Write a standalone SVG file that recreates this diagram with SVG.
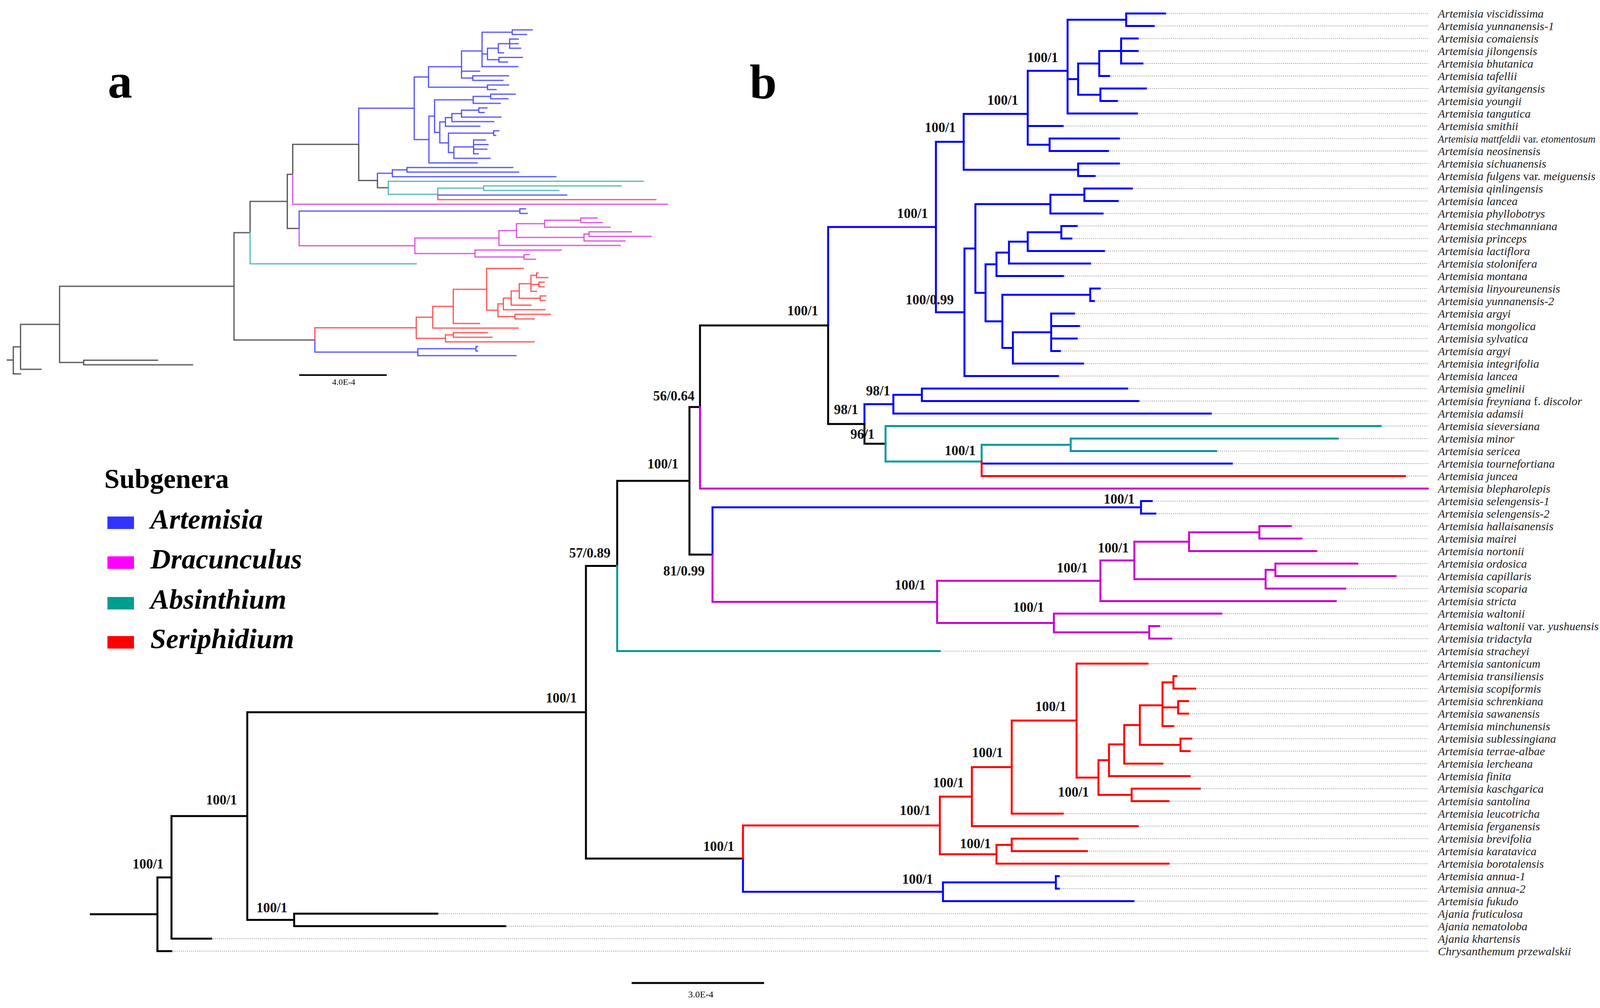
<svg xmlns="http://www.w3.org/2000/svg" xmlns:xlink="http://www.w3.org/1999/xlink" width="4157" height="2580" viewBox="0 0 4157 2580">
<style>
.k{stroke:#000}.bl{stroke:#0000ff}.mg{stroke:#cc00cc}.tl{stroke:#009999}.rd{stroke:#ff0000}
#branches path{fill:none;vector-effect:non-scaling-stroke;stroke-linecap:square}
.dot{fill:none;stroke:#8a8a8a;stroke-width:2;stroke-dasharray:2 3}
.tip{font-family:"Liberation Serif","Times New Roman",serif;font-style:italic;font-size:30px;fill:#222}
.tip tspan.n{font-style:normal}
.bs{font-family:"Liberation Serif","Times New Roman",serif;font-weight:bold;font-size:35px;fill:#111;text-anchor:middle}
.pl{font-family:"Liberation Serif","Times New Roman",serif;font-weight:bold;font-size:125px;fill:#000}
.leg{font-family:"Liberation Serif","Times New Roman",serif;font-weight:bold;font-style:italic;font-size:72px;fill:#000}
.sc{font-family:"Liberation Serif","Times New Roman",serif;fill:#000;text-anchor:middle}
</style>
<rect width="4157" height="2580" fill="#fff"/>

<g id="panel-b" stroke-width="5">
<g id="branches">
<path class="bl" d="M2883 34.5V66.5M2883 34.5H2983M2883 66.5H2954M2870 98.5V162.5M2870 98.5H2913M2870 130.5H2913M2870 162.5H2925M2814 130.5V194.5M2814 130.5H2870M2814 194.5H2840M2817 226.5V258.5M2817 226.5H2934M2817 258.5H2860M2760 162.5V242.5M2760 162.5H2814M2760 242.5H2817M2733 50.5V290.5M2733 50.5H2883M2733 202.5H2760M2733 290.5H2911M2687 354.5V386.5M2687 354.5H2865M2687 386.5H2837M2631 181.2V370.5M2631 181.2H2733M2631 322.5H2721M2631 370.5H2687M2760 418.5V450.5M2760 418.5H2865M2760 450.5H2803M2467 291.4V434.5M2467 291.4H2631M2467 434.5H2760"/>
<path class="bl" d="M2776 482.5V514.5M2776 482.5H2898M2776 514.5H2862M2689 498.5V546.5M2689 498.5H2776M2689 546.5H2823M2717 578.5V610.5M2717 578.5H2757M2717 610.5H2743M2631 594.5V642.5M2631 594.5H2717M2631 642.5H2827M2583 618.5V674.5M2583 618.5H2631M2583 674.5H2791M2551 646.5V706.5M2551 646.5H2583M2551 706.5H2722M2791 738.5V770.5M2791 738.5H2816M2791 770.5H2801M2691 802.5V898.5M2691 802.5H2750M2691 834.5H2763M2691 866.5H2757M2691 898.5H2714M2593 850.5V930.5M2593 850.5H2691M2593 930.5H2773M2566 754.5V890.5M2566 754.5H2791M2566 890.5H2593M2523 676.5V822.5M2523 676.5H2551M2523 822.5H2566M2497 522.5V749.5M2497 522.5H2689M2497 749.5H2523M2469 636V962.5M2469 636H2497M2469 962.5H2709M2396 363V799.25M2396 363H2467M2396 799.25H2469M2120 581.1V833.1M2120 581.1H2396"/>
<path class="bl" d="M2360 994.5V1026.5M2360 994.5H2886M2360 1026.5H2915M2287 1010.5V1058.5M2287 1010.5H2360M2287 1058.5H3100M2213 1034.5V1085.2M2213 1034.5H2287M2513 1186.5H3154M2921 1282.5V1314.5M2921 1282.5H2949M2921 1314.5H2958M1824 1298.5V1419.5M1824 1298.5H2921M2703 2242.5V2274.5M2703 2242.5H2711M2703 2274.5H2711M2414 2258.5V2306.5M2414 2258.5H2703M2414 2306.5H2902M1902 2197.6V2282.5M1902 2282.5H2414"/>
<path class="k" d="M2120 833.1V1085.2M2120 1085.2H2213M2213 1085.2V1135.8M2213 1135.8H2267M1792 833.1V1041.8M1792 833.1H2120M1765 1041.8V1419.5M1765 1041.8H1792M1765 1419.5H1824M1580 1230.7V1448.6M1580 1230.7H1765M1500 1448.6V2197.6M1500 1448.6H1580M1500 2197.6H1902M753 2338.5V2370.5M753 2338.5H1120M753 2370.5H1294M633 1823.1V2354.5M633 1823.1H1500M633 2354.5H753M439 2088.8V2402.5M439 2088.8H633M439 2402.5H541M403 2245.7V2434.5M403 2245.7H439M403 2434.5H439"/>
<path class="mg" d="M1792 1041.8V1250.5M1792 1250.5H3655M1824 1419.5V1540.5M1824 1540.5H2399M3224 1346.5V1378.5M3224 1346.5H3305M3224 1378.5H3332M3044 1362.5V1410.5M3044 1362.5H3224M3044 1410.5H3370M3265 1442.5V1474.5M3265 1442.5H3475M3265 1474.5H3573M3240 1458.5V1506.5M3240 1458.5H3265M3240 1506.5H3444M2904 1386.5V1482.5M2904 1386.5H3044M2904 1482.5H3240M2817 1434.5V1538.5M2817 1434.5H2904M2817 1538.5H3420M2942 1602.5V1634.5M2942 1602.5H2968M2942 1634.5H2999M2698 1570.5V1618.5M2698 1570.5H3127M2698 1618.5H2942M2399 1486.5V1594.5M2399 1486.5H2817M2399 1594.5H2698"/>
<path class="tl" d="M2741 1122.5V1154.5M2741 1122.5H3425M2741 1154.5H3114M2513 1138.5V1181.2M2513 1138.5H2741M2267 1090.5V1181.2M2267 1090.5H3535M2267 1181.2H2513M1580 1448.6V1666.5M1580 1666.5H2406"/>
<path class="rd" d="M2513 1181.2V1218.5M2513 1218.5H3597M3004 1730.5V1762.5M3004 1730.5H3012M3004 1762.5H3060M3016 1794.5V1826.5M3016 1794.5H3042M3016 1826.5H3042M2976 1746.5V1858.5M2976 1746.5H3004M2976 1810.5H3016M2976 1858.5H3004M3022 1890.5V1922.5M3022 1890.5H3050M3022 1922.5H3046M2918 1805.2V1906.5M2918 1805.2H2976M2918 1906.5H3022M2878 1855.8V1954.5M2878 1855.8H2918M2878 1954.5H2976M2839 1905.2V1986.5M2839 1905.2H2878M2839 1986.5H3046M2897 2018.5V2050.5M2897 2018.5H3072M2897 2050.5H2992M2812 1945.8V2034.5M2812 1945.8H2839M2812 2034.5H2897M2756 1698.5V1990.2M2756 1698.5H2938M2756 1990.2H2812M2590 1844.3V2082.5M2590 1844.3H2756M2590 2082.5H2721M2488 1963.4V2114.5M2488 1963.4H2590M2488 2114.5H2913M2590 2146.5V2178.5M2590 2146.5H2759M2590 2178.5H2783M2551 2162.5V2210.5M2551 2162.5H2590M2551 2210.5H2992M2406 2039V2186.5M2406 2039H2488M2406 2186.5H2551M1902 2112.8V2197.6M1902 2112.8H2406"/>
</g>
<path id="root-stem" class="k" fill="none" d="M230 2340.1H403"/>
</g>

<g id="tip-guides">
<path class="dot" d="M2983 34.5H3656M2954 66.5H3656M2913 98.5H3656M2913 130.5H3656M2925 162.5H3656M2840 194.5H3656M2934 226.5H3656M2860 258.5H3656M2911 290.5H3656M2721 322.5H3656M2865 354.5H3656M2837 386.5H3656M2865 418.5H3656M2803 450.5H3656M2898 482.5H3656M2862 514.5H3656M2823 546.5H3656M2757 578.5H3656M2743 610.5H3656M2827 642.5H3656M2791 674.5H3656M2722 706.5H3656M2816 738.5H3656M2801 770.5H3656M2750 802.5H3656M2763 834.5H3656M2757 866.5H3656M2714 898.5H3656M2773 930.5H3656M2709 962.5H3656M2886 994.5H3656M2915 1026.5H3656M3100 1058.5H3656M3535 1090.5H3656M3425 1122.5H3656M3114 1154.5H3656M3154 1186.5H3656M3597 1218.5H3656M2949 1282.5H3656M2958 1314.5H3656M3305 1346.5H3656M3332 1378.5H3656M3370 1410.5H3656M3475 1442.5H3656M3573 1474.5H3656M3444 1506.5H3656M3420 1538.5H3656M3127 1570.5H3656M2968 1602.5H3656M2999 1634.5H3656M2406 1666.5H3656M2938 1698.5H3656M3012 1730.5H3656M3060 1762.5H3656M3042 1794.5H3656M3042 1826.5H3656M3004 1858.5H3656M3050 1890.5H3656M3046 1922.5H3656M2976 1954.5H3656M3046 1986.5H3656M3072 2018.5H3656M2992 2050.5H3656M2721 2082.5H3656M2913 2114.5H3656M2759 2146.5H3656M2783 2178.5H3656M2992 2210.5H3656M2711 2242.5H3656M2711 2274.5H3656M2902 2306.5H3656M1120 2338.5H3656M1294 2370.5H3656M541 2402.5H3656M439 2434.5H3656"/>
</g>

<g id="tip-labels" class="tip">
<text id="t01" x="3681" y="44.5">Artemisia viscidissima</text>
<text id="t02" x="3681" y="76.5">Artemisia yunnanensis-1</text>
<text id="t03" x="3681" y="108.5">Artemisia comaiensis</text>
<text id="t04" x="3681" y="140.5">Artemisia jilongensis</text>
<text id="t05" x="3681" y="172.5">Artemisia bhutanica</text>
<text id="t06" x="3681" y="204.5">Artemisia tafellii</text>
<text id="t07" x="3681" y="236.5">Artemisia gyitangensis</text>
<text id="t08" x="3681" y="268.5">Artemisia youngii</text>
<text id="t09" x="3681" y="300.5">Artemisia tangutica</text>
<text id="t10" x="3681" y="332.5">Artemisia smithii</text>
<text id="t11" x="3681" y="364.5" font-size="26.5">Artemisia mattfeldii <tspan class="n">var.</tspan> etomentosum</text>
<text id="t12" x="3681" y="396.5">Artemisia neosinensis</text>
<text id="t13" x="3681" y="428.5">Artemisia sichuanensis</text>
<text id="t14" x="3681" y="460.5">Artemisia fulgens <tspan class="n">var.</tspan> meiguensis</text>
<text id="t15" x="3681" y="492.5">Artemisia qinlingensis</text>
<text id="t16" x="3681" y="524.5">Artemisia lancea</text>
<text id="t17" x="3681" y="556.5">Artemisia phyllobotrys</text>
<text id="t18" x="3681" y="588.5">Artemisia stechmanniana</text>
<text id="t19" x="3681" y="620.5">Artemisia princeps</text>
<text id="t20" x="3681" y="652.5">Artemisia lactiflora</text>
<text id="t21" x="3681" y="684.5">Artemisia stolonifera</text>
<text id="t22" x="3681" y="716.5">Artemisia montana</text>
<text id="t23" x="3681" y="748.5">Artemisia linyoureunensis</text>
<text id="t24" x="3681" y="780.5">Artemisia yunnanensis-2</text>
<text id="t25" x="3681" y="812.5">Artemisia argyi</text>
<text id="t26" x="3681" y="844.5">Artemisia mongolica</text>
<text id="t27" x="3681" y="876.5">Artemisia sylvatica</text>
<text id="t28" x="3681" y="908.5">Artemisia argyi</text>
<text id="t29" x="3681" y="940.5">Artemisia integrifolia</text>
<text id="t30" x="3681" y="972.5">Artemisia lancea</text>
<text id="t31" x="3681" y="1004.5">Artemisia gmelinii</text>
<text id="t32" x="3681" y="1036.5">Artemisia freyniana <tspan class="n">f.</tspan> discolor</text>
<text id="t33" x="3681" y="1068.5">Artemisia adamsii</text>
<text id="t34" x="3681" y="1100.5">Artemisia sieversiana</text>
<text id="t35" x="3681" y="1132.5">Artemisia minor</text>
<text id="t36" x="3681" y="1164.5">Artemisia sericea</text>
<text id="t37" x="3681" y="1196.5">Artemisia tournefortiana</text>
<text id="t38" x="3681" y="1228.5">Artemisia juncea</text>
<text id="t39" x="3681" y="1260.5">Artemisia blepharolepis</text>
<text id="t40" x="3681" y="1292.5">Artemisia selengensis-1</text>
<text id="t41" x="3681" y="1324.5">Artemisia selengensis-2</text>
<text id="t42" x="3681" y="1356.5">Artemisia hallaisanensis</text>
<text id="t43" x="3681" y="1388.5">Artemisia mairei</text>
<text id="t44" x="3681" y="1420.5">Artemisia nortonii</text>
<text id="t45" x="3681" y="1452.5">Artemisia ordosica</text>
<text id="t46" x="3681" y="1484.5">Artemisia capillaris</text>
<text id="t47" x="3681" y="1516.5">Artemisia scoparia</text>
<text id="t48" x="3681" y="1548.5">Artemisia stricta</text>
<text id="t49" x="3681" y="1580.5">Artemisia waltonii</text>
<text id="t50" x="3681" y="1612.5">Artemisia waltonii <tspan class="n">var.</tspan> yushuensis</text>
<text id="t51" x="3681" y="1644.5">Artemisia tridactyla</text>
<text id="t52" x="3681" y="1676.5">Artemisia stracheyi</text>
<text id="t53" x="3681" y="1708.5">Artemisia santonicum</text>
<text id="t54" x="3681" y="1740.5">Artemisia transiliensis</text>
<text id="t55" x="3681" y="1772.5">Artemisia scopiformis</text>
<text id="t56" x="3681" y="1804.5">Artemisia schrenkiana</text>
<text id="t57" x="3681" y="1836.5">Artemisia sawanensis</text>
<text id="t58" x="3681" y="1868.5">Artemisia minchunensis</text>
<text id="t59" x="3681" y="1900.5">Artemisia sublessingiana</text>
<text id="t60" x="3681" y="1932.5">Artemisia terrae-albae</text>
<text id="t61" x="3681" y="1964.5">Artemisia lercheana</text>
<text id="t62" x="3681" y="1996.5">Artemisia finita</text>
<text id="t63" x="3681" y="2028.5">Artemisia kaschgarica</text>
<text id="t64" x="3681" y="2060.5">Artemisia santolina</text>
<text id="t65" x="3681" y="2092.5">Artemisia leucotricha</text>
<text id="t66" x="3681" y="2124.5">Artemisia ferganensis</text>
<text id="t67" x="3681" y="2156.5">Artemisia brevifolia</text>
<text id="t68" x="3681" y="2188.5">Artemisia karatavica</text>
<text id="t69" x="3681" y="2220.5">Artemisia borotalensis</text>
<text id="t70" x="3681" y="2252.5">Artemisia annua-1</text>
<text id="t71" x="3681" y="2284.5">Artemisia annua-2</text>
<text id="t72" x="3681" y="2316.5">Artemisia fukudo</text>
<text id="t73" x="3681" y="2348.5">Ajania fruticulosa</text>
<text id="t74" x="3681" y="2380.5">Ajania nematoloba</text>
<text id="t75" x="3681" y="2412.5">Ajania khartensis</text>
<text id="t76" x="3681" y="2444.5">Chrysanthemum przewalskii</text>
</g>

<g id="support-values" class="bs">
<text x="2669" y="159">100/1</text>
<text x="2567" y="268">100/1</text>
<text x="2407" y="338">100/1</text>
<text x="2336" y="558">100/1</text>
<text x="2380" y="779">100/0.99</text>
<text x="2055" y="807">100/1</text>
<text x="1725" y="1025">56/0.64</text>
<text x="2248" y="1012">98/1</text>
<text x="2166" y="1060">98/1</text>
<text x="2208" y="1123">96/1</text>
<text x="1697" y="1199">100/1</text>
<text x="1510" y="1427">57/0.89</text>
<text x="1751" y="1473">81/0.99</text>
<text x="2458" y="1165">100/1</text>
<text x="2865" y="1289">100/1</text>
<text x="2850" y="1414">100/1</text>
<text x="2745" y="1465">100/1</text>
<text x="2330" y="1509">100/1</text>
<text x="2633" y="1566">100/1</text>
<text x="2690" y="1820">100/1</text>
<text x="2528" y="1938">100/1</text>
<text x="2428" y="2015">100/1</text>
<text x="2343" y="2086">100/1</text>
<text x="2748" y="2039">100/1</text>
<text x="2497" y="2171">100/1</text>
<text x="2349" y="2262">100/1</text>
<text x="1840" y="2178">100/1</text>
<text x="1437" y="1798">100/1</text>
<text x="567" y="2059">100/1</text>
<text x="379" y="2223">100/1</text>
<text x="696" y="2335">100/1</text>
</g>

<g id="panel-a" opacity="0.7">
<use xlink:href="#branches" href="#branches" transform="matrix(0.515 0 0 0.3669 -173.5 63.84)" stroke-width="3"/>
<path class="k" fill="none" stroke-width="3" d="M17 921.5H34"/>
</g>

<g id="panel-labels" class="pl">
<text x="276" y="250">a</text>
<text x="1919" y="252">b</text>
</g>

<g id="scale-a">
<path d="M766 960H990" stroke="#000" stroke-width="4"/>
<text class="sc" x="880" y="985" font-size="22">4.0E-4</text>
</g>
<g id="scale-b">
<path d="M1617 2516H1956" stroke="#000" stroke-width="5"/>
<text class="sc" x="1794" y="2553" font-size="24">3.0E-4</text>
</g>

<g id="legend">
<text x="267" y="1249" font-family="Liberation Serif, Times New Roman, serif" font-weight="bold" font-size="70">Subgenera</text>
<g id="leg-artemisia"><rect x="275" y="1322" width="68" height="32" fill="#3333ff"/><text class="leg" x="385" y="1353">Artemisia</text></g>
<g id="leg-dracunculus"><rect x="275" y="1424" width="68" height="32" fill="#ff00ff"/><text class="leg" x="385" y="1455">Dracunculus</text></g>
<g id="leg-absinthium"><rect x="275" y="1528" width="68" height="32" fill="#009e90"/><text class="leg" x="385" y="1558">Absinthium</text></g>
<g id="leg-seriphidium"><rect x="275" y="1628" width="68" height="32" fill="#ff0000"/><text class="leg" x="385" y="1659">Seriphidium</text></g>
</g>
</svg>
